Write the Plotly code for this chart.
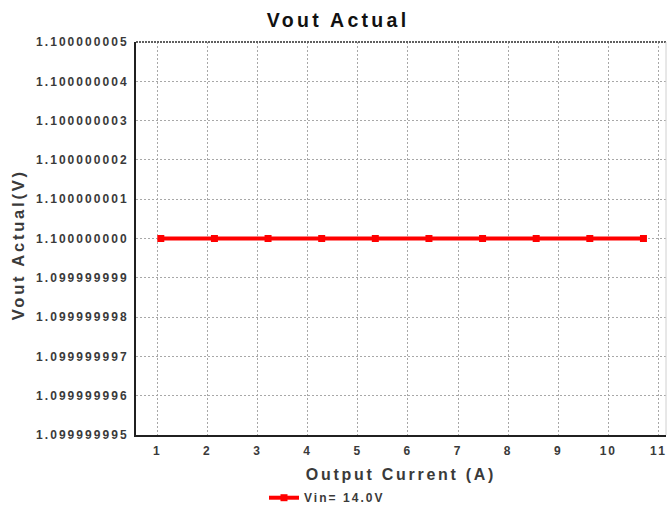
import plotly.graph_objects as go

# Output current sweep (A) and measured output voltage (V)
current_a = [1.07, 2.14, 3.21, 4.28, 5.35, 6.42, 7.49, 8.56, 9.63, 10.70]
vout_v = [1.1, 1.1, 1.1, 1.1, 1.1, 1.1, 1.1, 1.1, 1.1, 1.1]

x_ticks = [1, 2, 3, 4, 5, 6, 7, 8, 9, 10, 11]
y_ticks = [1.099999995, 1.099999996, 1.099999997, 1.099999998, 1.099999999,
           1.100000000, 1.100000001, 1.100000002, 1.100000003, 1.100000004,
           1.100000005]
y_tick_text = ["1.099999995", "1.099999996", "1.099999997", "1.099999998",
               "1.099999999", "1.100000000", "1.100000001", "1.100000002",
               "1.100000003", "1.100000004", "1.100000005"]

FONT = "Liberation Sans"
TXT = "#3a3a3a"

fig = go.Figure()
fig.add_trace(go.Scatter(
    x=current_a, y=vout_v, mode="lines+markers", name="<b>Vin= 14.0V</b>",
    line=dict(color="#ff0000", width=4),
    marker=dict(symbol="square", size=7, color="#ff0000"),
))

fig.update_layout(
    width=667, height=511,
    margin=dict(l=136, r=1, t=42, b=76, autoexpand=False),
    paper_bgcolor="white", plot_bgcolor="white",
    font=dict(family=FONT, color=TXT, size=12),
    title=dict(text="<b>Vout Actual</b>", x=0.507, xanchor="center", y=0.96,
               yanchor="middle", font=dict(size=19.5, color="#111111")),
    showlegend=True,
    legend=dict(orientation="h", x=0.2415, xanchor="left",
                yref="container", y=0.026, yanchor="middle",
                font=dict(size=12, color=TXT), itemwidth=30,
                bgcolor="rgba(0,0,0,0)"),
    xaxis=dict(
        range=[0.575, 11.15], tickvals=x_ticks,
        ticktext=[f"<b>{v}</b>" for v in x_ticks],
        showgrid=True, gridcolor="#a8a8a8", griddash="2px,2px", gridwidth=1,
        showline=True, linecolor="#202020", linewidth=2, mirror=False,
        ticks="", zeroline=False, ticklabelstandoff=4,
        title=dict(text="<b>Output Current (A)</b>", font=dict(size=16, color=TXT),
                   standoff=11),
    ),
    yaxis=dict(
        range=[1.099999995, 1.100000005], tickvals=y_ticks,
        ticktext=[f"<b>{t}</b>" for t in y_tick_text],
        showgrid=True, gridcolor="#a8a8a8", griddash="2px,2px", gridwidth=1,
        showline=True, linecolor="#202020", linewidth=2,
        ticks="", zeroline=False, ticklabelstandoff=3,
    ),
)

# vertical axis title, placed left of the tick labels
fig.add_annotation(text="<b>Vout Actual(V)</b>", textangle=-90,
                   xref="paper", yref="paper", x=-0.223, y=0.484,
                   xanchor="center", yanchor="middle", showarrow=False,
                   font=dict(size=16.5, color=TXT))

# dark dotted top edge and light right edge of the plot frame
fig.add_shape(type="line", xref="paper", yref="paper", x0=0, x1=1, y0=1, y1=1,
              line=dict(color="#606060", width=2, dash="2px,1px"))
fig.add_shape(type="line", xref="paper", yref="paper", x0=1, x1=1, y0=0, y1=1,
              line=dict(color="#d0d0d0", width=1))

# widen the tracking of every label; keep the wider legend text unclipped
tracking = """
var s = document.createElement('style');
s.textContent = 'svg text { letter-spacing: 0.17em; } ' +
                'g.legend, g.legend g.scrollbox { clip-path: none !important; }';
document.head.appendChild(s);
"""

fig.write_html("out.html", post_script=tracking)
